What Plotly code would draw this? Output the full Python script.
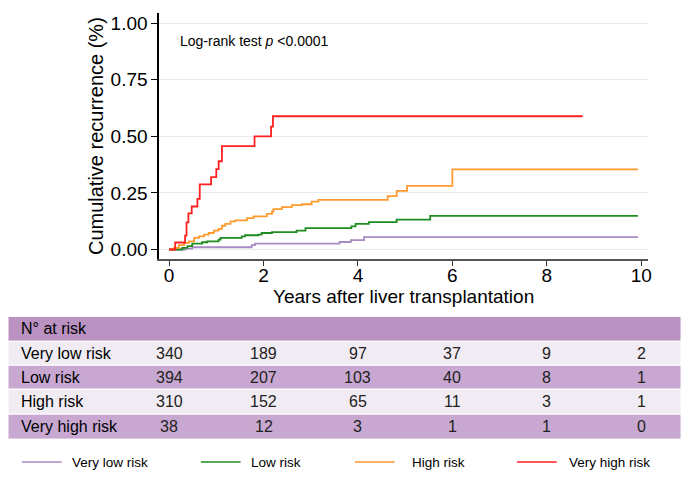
import plotly.graph_objects as go

# ---------------- data ----------------
groups = ["Very low risk", "Low risk", "High risk", "Very high risk"]
colors = ["#A98BC4", "#1E8C1E", "#FF9A2E", "#FF2020"]

vlow_t = [0, 0.21, 0.35, 0.49, 1.75, 1.82, 3.61, 3.85, 4.13, 9.93]
vlow_v = [0, 0, 0.004, 0.010, 0.019, 0.026, 0.033, 0.041, 0.055, 0.055]

low_t = [0, 0.14, 0.28, 0.39, 0.49, 0.70, 0.81, 1.05, 1.09, 1.54, 1.61, 1.89, 1.96,
         2.18, 2.70, 2.89, 3.86, 3.95, 4.23, 4.82, 5.53, 9.93]
low_v = [0, 0, 0.007, 0.015, 0.026, 0.032, 0.036, 0.044, 0.051, 0.058, 0.063, 0.066, 0.073,
         0.077, 0.083, 0.094, 0.102, 0.113, 0.121, 0.132, 0.149, 0.149]

high_t = [0, 0.105, 0.21, 0.32, 0.42, 0.53, 0.63, 0.74, 0.84, 0.95, 1.05, 1.12, 1.19, 1.30,
          1.40, 1.65, 1.79, 2.07, 2.18, 2.21, 2.39, 2.60, 2.81, 3.02, 3.16, 4.63, 4.82,
          5.04, 6.00, 9.93]
high_v = [0, 0.007, 0.019, 0.029, 0.036, 0.051, 0.058, 0.066, 0.073, 0.083, 0.091, 0.105,
          0.113, 0.124, 0.129, 0.139, 0.146, 0.157, 0.168, 0.178, 0.187, 0.196, 0.200,
          0.212, 0.219, 0.236, 0.259, 0.281, 0.354, 0.354]

vhigh_t = [0, 0.13, 0.34, 0.37, 0.41, 0.48, 0.60, 0.65, 0.89, 1.00, 1.05, 1.12, 1.81,
           2.16, 2.20, 8.76]
vhigh_v = [0, 0.031, 0.061, 0.12, 0.16, 0.19, 0.224, 0.288, 0.32, 0.355, 0.39, 0.457,
           0.50, 0.543, 0.589, 0.589]

risk_times = [0, 2, 4, 6, 8, 10]
n_vlow = [340, 189, 97, 37, 9, 2]
n_low = [394, 207, 103, 40, 8, 1]
n_high = [310, 152, 65, 11, 3, 1]
n_vhigh = [38, 12, 3, 1, 1, 0]

y_ticks = [0, 0.25, 0.5, 0.75, 1.0]
x_ticks = [0, 2, 4, 6, 8, 10]

# ---------------- figure ----------------
OFF = 8  # default page body margin
W, H = 692 - OFF, 481 - OFF
FONT = "Liberation Sans, Arial, sans-serif"


def py(px):
    return 1 - (px - OFF) / H


def pxx(px):
    return (px - OFF) / W


fig = go.Figure()
series = [(vlow_t, vlow_v), (low_t, low_v), (high_t, high_v), (vhigh_t, vhigh_v)]
for (t, v), name, c in zip(series, groups, colors):
    fig.add_trace(go.Scatter(x=t, y=v, mode="lines", line=dict(color=c, width=1.8, shape="hv"),
                             name=name, showlegend=False, hoverinfo="skip"))

shapes = []
annotations = []

# log-rank annotation
annotations.append(dict(x=pxx(179), y=py(41), xref="paper", yref="paper", xanchor="left",
                        yanchor="middle", showarrow=False,
                        text="Log-rank test <i>p</i> <0.0001",
                        font=dict(family=FONT, size=14, color="black")))

# x axis title
annotations.append(dict(x=pxx(406), y=py(297), xref="paper", yref="paper", xanchor="center",
                        yanchor="middle", showarrow=False,
                        text="Years after liver transplantation",
                        font=dict(family=FONT, size=19, color="black")))

# table
row_bounds = [(317, 342), (342, 366), (366, 390), (390, 415), (415, 440)]
row_colors = ["#B992C1", "#F1EBF3", "#C8A8D1", "#F1EBF3", "#C8A8D1"]
for (top, bot), col in zip(row_bounds, row_colors):
    shapes.append(dict(type="rect", xref="paper", yref="paper", x0=pxx(8), x1=pxx(685),
                       y0=py(bot), y1=py(top), fillcolor=col,
                       line=dict(color="white", width=1), layer="below"))

labels = ["N° at risk"] + groups
for (top, bot), lab in zip(row_bounds, labels):
    annotations.append(dict(x=pxx(19), y=py((top + bot) / 2), xref="paper", yref="paper",
                            xanchor="left", yanchor="middle", showarrow=False, text=lab,
                            font=dict(family=FONT, size=16, color="black")))

for (top, bot), counts in zip(row_bounds[1:], [n_vlow, n_low, n_high, n_vhigh]):
    for t, n in zip(risk_times, counts):
        annotations.append(dict(x=t, y=py((top + bot) / 2), xref="x", yref="paper",
                                xanchor="center", yanchor="middle", showarrow=False,
                                text=str(n), font=dict(family=FONT, size=16, color="#222")))

# legend (manual)
leg_y = py(463)
leg_line_x = [(22, 62), (202, 242), (357, 397), (520, 560)]
leg_text_x = [70, 250, 412, 570]
for (x0, x1), tx, name, c in zip(leg_line_x, leg_text_x, groups, colors):
    shapes.append(dict(type="line", xref="paper", yref="paper", x0=pxx(x0), x1=pxx(x1),
                       y0=leg_y, y1=leg_y, line=dict(color=c, width=1.5)))
    annotations.append(dict(x=pxx(tx), y=leg_y, xref="paper", yref="paper", xanchor="left",
                            yanchor="middle", showarrow=False, text=name,
                            font=dict(family=FONT, size=13.5, color="black")))

x_left, x_right = 160, 652
y_top, y_bot = 13.3, 259.5
px_per_year = 47.5
x0_px = 170
px_per_unit = 226.7
y0_px = 250

fig.update_layout(
    width=W, height=H,
    margin=dict(l=0, r=0, t=0, b=0),
    paper_bgcolor="white", plot_bgcolor="white",
    font=dict(family=FONT, color="black"),
    shapes=shapes, annotations=annotations,
    showlegend=False,
    xaxis=dict(domain=[pxx(x_left), pxx(x_right)],
               range=[(x_left - x0_px) / px_per_year, (x_right - x0_px) / px_per_year],
               tickvals=x_ticks, ticks="outside", ticklen=5, tickcolor="#333",
               ticklabelstandoff=-7,
               showline=True, linecolor="#555", linewidth=1.5,
               showgrid=False, zeroline=False,
               tickfont=dict(family=FONT, size=19, color="black")),
    yaxis=dict(domain=[py(y_bot), py(y_top)],
               range=[(y0_px - y_bot) / px_per_unit, (y0_px - y_top) / px_per_unit],
               tickvals=y_ticks, tickformat=".2f", ticks="outside", ticklen=6,
               tickcolor="black",
               showline=True, linecolor="black", linewidth=1.5,
               showgrid=True, gridcolor="#EBEBEB", gridwidth=1, zeroline=False,
               tickfont=dict(family=FONT, size=19, color="black"),
               title=dict(text="Cumulative recurrence (%)", standoff=2,
                          font=dict(family=FONT, size=20, color="black"))),
)

fig.write_html("out.html")
